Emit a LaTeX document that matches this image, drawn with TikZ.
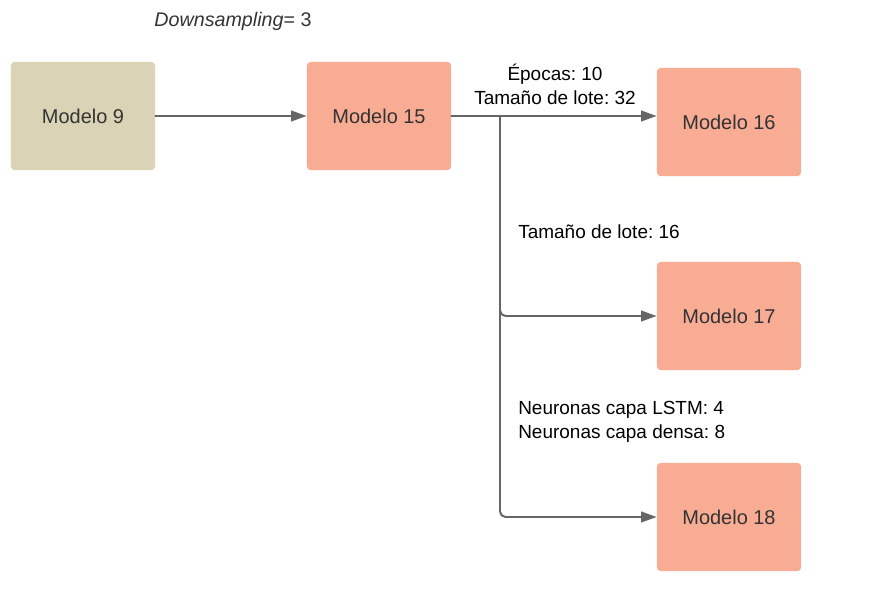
\documentclass[tikz,border=0pt]{standalone}
\usepackage{fontspec}
\setmainfont{Liberation Sans}
\usetikzlibrary{arrows.meta,positioning}
\frenchspacing

\definecolor{boxtan}{HTML}{DAD3B6}
\definecolor{boxsalmon}{HTML}{F8AC94}
\definecolor{textgray}{HTML}{333333}
\definecolor{linegray}{HTML}{666666}

\tikzset{
  modelbox/.style={rectangle, rounded corners=2.5pt, minimum width=3.6cm, minimum height=2.7cm,
    text=textgray, font=\fontsize{14.2}{17}\selectfont},
  conn/.style={draw=linegray, line width=1.4pt, -{Triangle[length=11pt,width=7.5pt]}},
  lbl/.style={text=black, font=\fontsize{13.5}{17}\selectfont}
}

\begin{document}
\begin{tikzpicture}[x=0.025cm, y=-0.025cm, line cap=round, line join=round]
		
		\useasboundingbox (0,0) rectangle (882,606);
		
		% --- title ---
		\node[text=textgray, font=\fontsize{14}{16}\selectfont] (title) at (233,21) {\textit{Downsampling}= 3};
		
		% --- models ---
		\node[modelbox, fill=boxtan] (m9) at (83,116) {Modelo 9};
		\node[modelbox, fill=boxsalmon] (m15) at (379,116) {Modelo 15};
		\node[modelbox, fill=boxsalmon] (m16) at (729,122) {Modelo 16};
		\node[modelbox, fill=boxsalmon] (m17) at (729,316) {Modelo 17};
		\node[modelbox, fill=boxsalmon] (m18) at (729,517) {Modelo 18};
		
		% --- connectors ---
		\coordinate (split) at (500,116);
		\draw[conn] (m9) -- (m15);
		\draw[conn] (m15.east) -- (m16.west |- m15.east);
		\draw[conn, rounded corners=4pt] (split) |- (m17.west);
		\draw[conn, rounded corners=4pt] (split) |- (m18.west);
		
		% --- labels on the branches ---
		\node[lbl, align=center] (lab16) at (555,84) {Épocas: 10\\Tamaño de lote: 32};
		\node[lbl, anchor=west, inner sep=0pt] (lab17) at (518,232) {Tamaño de lote: 16};
		\node[lbl, anchor=west, align=left, inner sep=0pt] (lab18) at (518,422) {Neuronas capa LSTM: 4\\Neuronas capa densa: 8};
		
	\end{tikzpicture}
\end{document}
